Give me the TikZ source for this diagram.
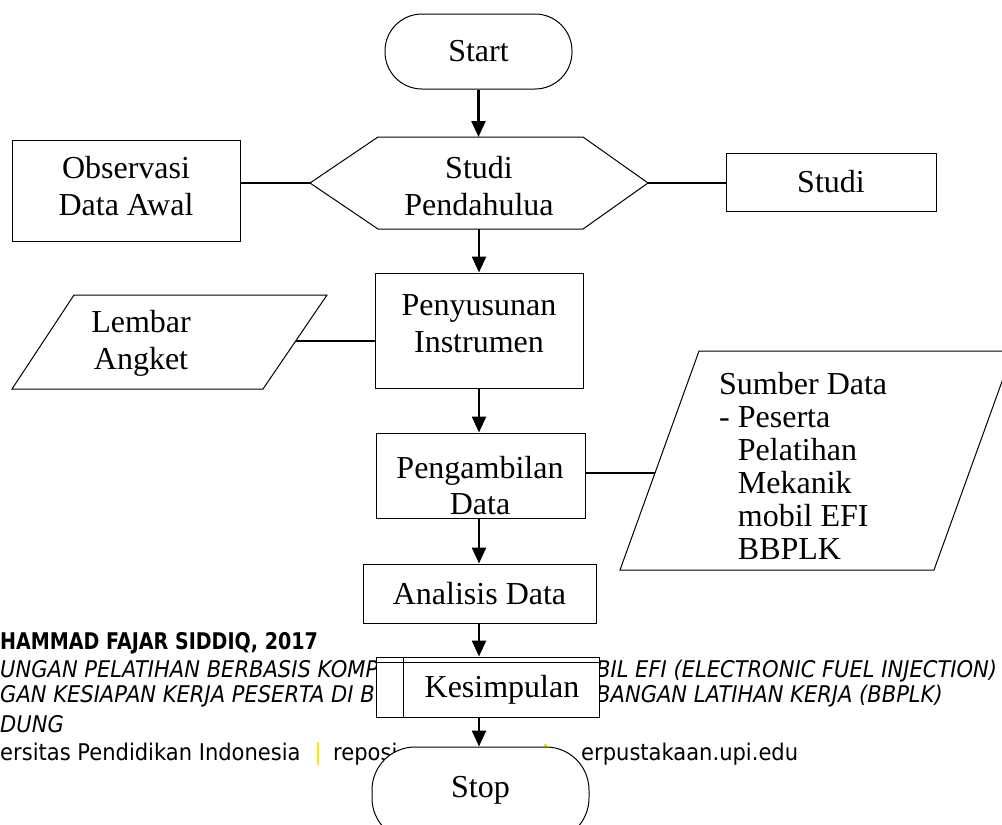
\documentclass[tikz,border=0pt]{standalone}
\usepackage{fontspec}
\setmainfont{Liberation Serif}
\newfontfamily\footfont[FakeStretch=0.915]{DejaVu Sans}
\newfontfamily\footboldfont[FakeStretch=0.83]{DejaVu Sans}
\usetikzlibrary{arrows.meta}
\definecolor{baryellow}{RGB}{255,230,0}
\begin{document}
\begin{tikzpicture}[x=1pt,y=-1pt,
  every node/.style={font=\fontsize{32}{37}\selectfont, inner sep=0pt},
  shp/.style={draw, line width=1pt, fill=white},
  boxnode/.style={shp, rectangle},
  conn/.style={line width=1.4pt},
  arr/.style={line width=2.4pt, -{Triangle[length=16pt,width=14pt]}},
  lbl/.style={align=center},
  ftr/.style={anchor=base west, font=\footfont\fontsize{23}{27}\selectfont},
  fti/.style={anchor=base west, font=\footfont\itshape\fontsize{23}{27}\selectfont},
  ftb/.style={anchor=base west, font=\footboldfont\bfseries\fontsize{23}{27}\selectfont},
]
\useasboundingbox (0,0) rectangle (1002,825);

% ---------- footer watermark text (behind the chart) ----------
\node[ftb] (f1) at (0,649) {HAMMAD FAJAR SIDDIQ, 2017};
\node[fti] (f2a) at (0,677) {UNGAN PELATIHAN BERBASIS KOMP};
\node[fti] (f2b) at (596,677) {BIL EFI (ELECTRONIC FUEL INJECTION)};
\node[fti] (f3a) at (0,702) {GAN KESIAPAN KERJA PESERTA DI B};
\node[fti] (f3b) at (596,702) {BANGAN LATIHAN KERJA (BBPLK)};
\node[fti] (f4) at (0,732) {DUNG};
\node[ftr] (f5a) at (0,760) {ersitas Pendidikan Indonesia};
\fill[baryellow] (316.5,742) rectangle (319,765);
\node[ftr] (f5b) at (333,760) {reposi};
\fill[baryellow] (544,744) rectangle (546.5,765);
\node[ftr] (f5c) at (581,760) {erpustakaan.upi.edu};

% ---------- shapes ----------
\node[shp, rounded corners=37pt, minimum width=187pt, minimum height=75pt] (start) at (478.5,51.5) {Start};

% hexagon
\coordinate (hexL) at (310,183);
\coordinate (hexR) at (648,183);
\coordinate (hexT) at (479,137);
\coordinate (hexB) at (479,229);
\draw[shp] (hexL) -- (378,137) -- (583,137) -- (hexR) -- (583,229) -- (378,229) -- cycle;
\node[lbl] (hex) at (479,186.5) {Studi\\Pendahulua};

\node[boxnode, minimum width=228pt, minimum height=101pt] (obs) at (126,190.5) {};
\node[lbl] (obst) at (126,186) {Observasi\\Data Awal};

\node[boxnode, minimum width=210pt, minimum height=58pt] (studi) at (831,182) {Studi};

\node[boxnode, minimum width=208pt, minimum height=115pt] (peny) at (479,330.5) {};
\node[lbl] (penyt) at (479,323.5) {Penyusunan\\Instrumen};

% Lembar Angket parallelogram
\coordinate (lembR) at (296,341);
\draw[shp] (74,295) -- (327,295) -- (263,389) -- (12,389) -- cycle;
\node[lbl] (lemb) at (141,343.5) {Lembar\\Angket};

\node[boxnode, minimum width=209pt, minimum height=85pt] (peng) at (480.5,475.5) {};
\node[lbl, font=\fontsize{32}{36}\selectfont] (pengt) at (480,485.5) {Pengambilan\\Data};

% Sumber Data parallelogram
\coordinate (sumL) at (655,473);
\draw[shp] (699,351) -- (1013,351) -- (934,570) -- (620,570) -- cycle;
\node[align=left, anchor=west, font=\fontsize{32}{33}\selectfont] (sumber) at (719,465.5)
  {Sumber Data\\- Peserta\\\hspace*{18.7pt}Pelatihan\\\hspace*{18.7pt}Mekanik\\\hspace*{18.7pt}mobil EFI\\\hspace*{18.7pt}BBPLK};

\node[boxnode, minimum width=233pt, minimum height=59pt] (anal) at (479.5,593.5) {Analisis Data};

\node[boxnode, minimum width=223pt, minimum height=60pt] (kes) at (487.5,687) {};
\draw[line width=1pt] ([yshift=-6pt]kes.north west) -- ([yshift=-6pt]kes.north east);
\draw[line width=1pt] ([xshift=28pt]kes.north west) -- ([xshift=28pt]kes.south west);
\node (kest) at (502,690) {Kesimpulan};

\node[shp, rounded corners=43pt, minimum width=217pt, minimum height=94pt] (stop) at (480.5,794) {};
\node (stopt) at (480.5,790) {Stop};

% ---------- connectors ----------
\draw[arr] (start.south) -- (start.south |- hexT);
\draw[arr] (hexB) -- (peny.north);
\draw[arr] (peny.south) -- (peny.south |- peng.north);
\draw[arr] (peny.south |- peng.south) -- (peny.south |- anal.north);
\draw[arr] (peny.south |- anal.south) -- (peny.south |- kes.north);
\draw[arr] (peny.south |- kes.south) -- (peny.south |- stop.north);

\draw[conn] (obs.east |- hexL) -- (hexL);
\draw[conn] (hexR) -- (studi.west |- hexR);
\draw[conn] (lembR) -- (lembR -| peny.west);
\draw[conn] (sumL -| peng.east) -- (sumL);
\end{tikzpicture}
\end{document}
